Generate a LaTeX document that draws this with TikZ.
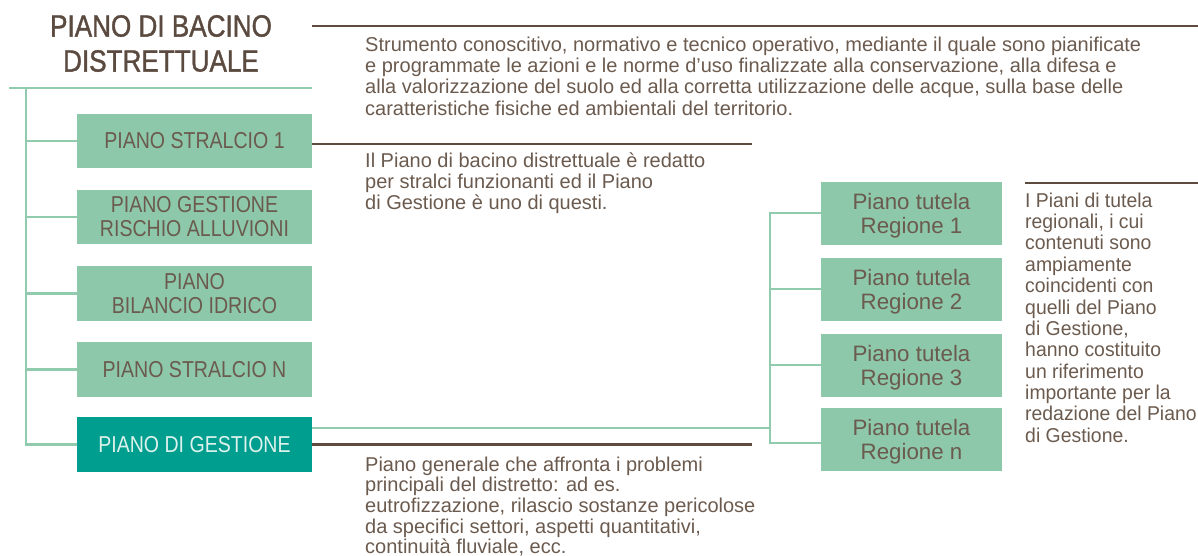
\documentclass[tikz,border=0pt]{standalone}
\usepackage{fontspec}
\setmainfont{Liberation Sans}
\newfontfamily\capsfont[FakeStretch=0.85]{Liberation Sans}
\newfontfamily\titlefont[FakeStretch=0.85,FakeBold=1.2]{Liberation Sans}
\newfontfamily\narrowfont[FakeStretch=0.97]{Liberation Sans}
\definecolor{txt}{HTML}{6B5A4E}
\definecolor{ttl}{HTML}{5B4A3F}
\definecolor{brn}{HTML}{5E4C41}
\definecolor{lgr}{HTML}{8EC8AA}
\definecolor{lgl}{HTML}{90CBAE}
\definecolor{tealbox}{HTML}{009E8F}
\definecolor{tealtxt}{HTML}{DDF2EC}
\begin{document}
\begin{tikzpicture}[x=1pt,y=-1pt,
  lbox/.style={fill=lgr, draw=none, minimum width=235pt, minimum height=54.5pt, inner sep=0pt, align=center, text=txt, font=\capsfont\fontsize{23}{24}\selectfont},
  gbox/.style={lbox, fill=tealbox, text=tealtxt},
  rbox/.style={fill=lgr, draw=none, minimum width=181pt, minimum height=63pt, inner sep=0pt, align=center, text=txt, text depth=0pt, font=\fontsize{22.3}{24}\selectfont},
  desc/.style={anchor=north west, inner sep=0pt, align=left, text=txt, font=\fontsize{20}{21.3}\selectfont},
  gline/.style={draw=lgl, line width=2.5pt, line join=miter},
  bline/.style={draw=brn, line width=2.8pt},
]
\useasboundingbox (0,0) rectangle (1198,555);

% title
\node[align=center, inner sep=0pt, text=ttl, font=\titlefont\fontsize{30.7}{35}\selectfont] (title) at (161,43.5) {PIANO DI BACINO\\DISTRETTUALE};

% left boxes
\node[lbox] (b1) at (194.5,141) {PIANO STRALCIO 1};
\node[lbox] (b2) at (194.5,217) {PIANO GESTIONE\\RISCHIO ALLUVIONI};
\node[lbox] (b3) at (194.5,293.5) {PIANO\\BILANCIO IDRICO};
\node[lbox] (b4) at (194.5,369.5) {PIANO STRALCIO N};
\node[gbox] (b5) at (194.5,444.5) {PIANO DI GESTIONE};

% right boxes
\node[rbox] (r1) at (911.5,213) {Piano tutela\\Regione 1};
\node[rbox] (r2) at (911.5,289) {Piano tutela\\Regione 2};
\node[rbox] (r3) at (911.5,365) {Piano tutela\\Regione 3};
\node[rbox] (r4) at (911.5,439.5) {Piano tutela\\Regione n};

% descriptions
\node[desc] (d1) at (365,35) {\rule{0pt}{16pt}Strumento conoscitivo, normativo e tecnico operativo, mediante il quale sono pianificate\\e programmate le azioni e le norme d’uso finalizzate alla conservazione, alla difesa e\\alla valorizzazione del suolo ed alla corretta utilizzazione delle acque, sulla base delle\\caratteristiche fisiche ed ambientali del territorio.};
\node[desc] (d2) at (365,151) {\rule{0pt}{16pt}Il Piano di bacino distrettuale è redatto\\per stralci funzionanti ed il Piano\\di Gestione è uno di questi.};
\node[desc, font=\fontsize{20}{20.6}\selectfont] (d3) at (365,455) {\rule{0pt}{16pt}Piano generale che affronta i problemi\\principali del distretto: ad es.\\eutrofizzazione, rilascio sostanze pericolose\\da specifici settori, aspetti quantitativi,\\continuità fluviale, ecc.};
\node[desc, font=\narrowfont\fontsize{20}{21.36}\selectfont] (d4) at (1025,191) {\rule{0pt}{16pt}I Piani di tutela\\regionali, i cui\\contenuti sono\\ampiamente\\coincidenti con\\quelli del Piano\\di Gestione,\\hanno costituito\\un riferimento\\importante per la\\redazione del Piano\\di Gestione.};

% coordinates
\coordinate (tl) at (9,88);
\coordinate (tr) at (312,88);
\coordinate (tk) at (26,88);
\coordinate (vx) at (770,428);
\coordinate (r4b) at ([yshift=-3.5pt]r4.west);
\coordinate (l1a) at (312,26);
\coordinate (l1b) at (1198,26);
\coordinate (l2b) at (752,144);
\coordinate (l4a) at (1025,183);
\coordinate (l4b) at (1198,183);

% green connectors
\draw[gline] (tl) -- (tr);
\draw[gline] (tk) |- (b5.west);
\foreach \b in {b1,b2,b3,b4} \draw[gline] (\b.west) -- (\b.west -| tk);
\draw[gline] ([yshift=16.5pt]b5.east) -- (vx);
\draw[gline] (r1.west) -- (r1.west -| vx) -- (r4b -| vx) -- (r4b);
\draw[gline] (r2.west) -- (r2.west -| vx);
\draw[gline] (r3.west) -- (r3.west -| vx);

% brown rules
\draw[bline] (l1a) -- (l1b);
\draw[bline] ([yshift=-3pt]b1.east) -- (l2b);
\draw[bline] (b5.east) -- (b5.east -| l2b);
\draw[bline] (l4a) -- (l4b);
\end{tikzpicture}
\end{document}
